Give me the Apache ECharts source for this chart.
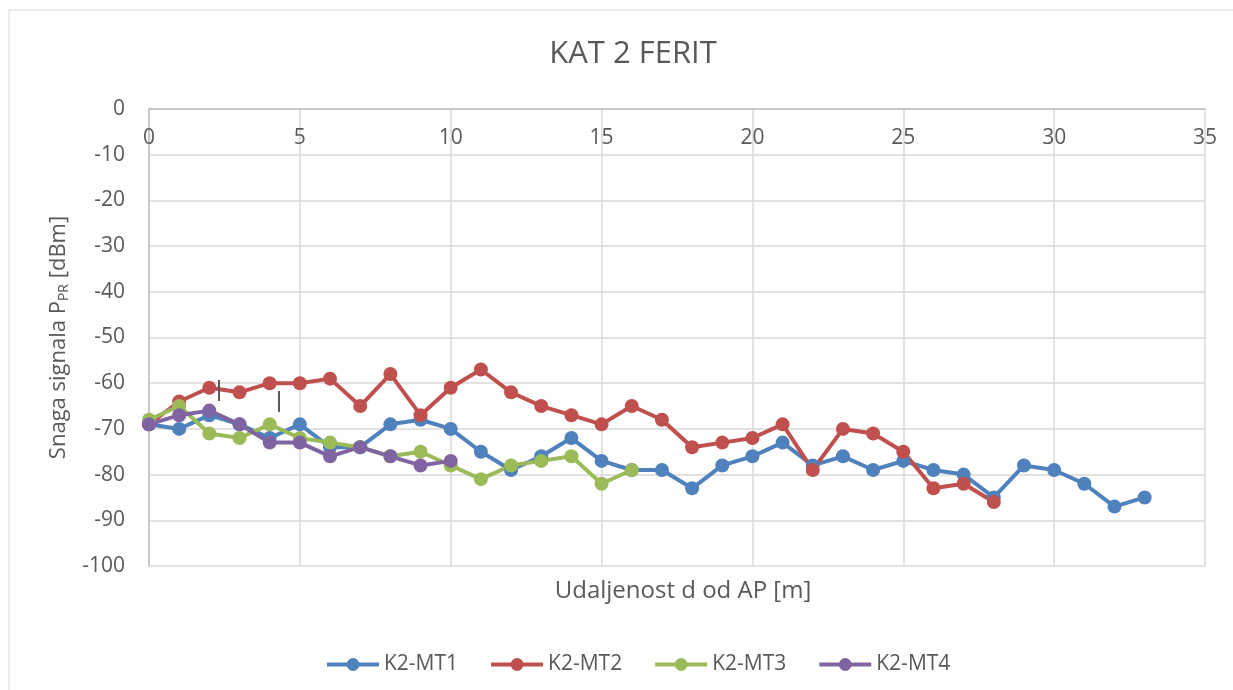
<!DOCTYPE html>
<html><head><meta charset="utf-8">
<script src="https://cdn.jsdelivr.net/npm/echarts@6/dist/echarts.min.js"></script>
<style>html,body{margin:0;padding:0;background:#fff}#c{width:1233px;height:690px}</style>
</head><body><div id="c"></div>
<script>
const mt1 = [-69,-70,-67,-69,-72,-69,-74,-74,-69,-68,-70,-75,-79,-76,-72,-77,-79,-79,-83,-78,-76,-73,-78,-76,-79,-77,-79,-80,-85,-78,-79,-82,-87,-85];
const mt2 = [-69,-64,-61,-62,-60,-60,-59,-65,-58,-67,-61,-57,-62,-65,-67,-69,-65,-68,-74,-73,-72,-69,-79,-70,-71,-75,-83,-82,-86];
const mt3 = [-68,-65,-71,-72,-69,-72,-73,-74,-76,-75,-78,-81,-78,-77,-76,-82,-79];
const mt4 = [-69,-67,-66,-69,-73,-73,-76,-74,-76,-78,-77];
const seriesNames = ['K2-MT1','K2-MT2','K2-MT3','K2-MT4'];
const colors = ['#4f81bd','#c0504d','#9bbb59','#8064a2'];
const xTicks = {min:0,max:35,interval:5};
const yTicks = {min:-100,max:0,interval:10};

const font = 'Open Sans, Liberation Sans, sans-serif';
const toPts = arr => arr.map((v,i)=>[i,v]);
const chart = echarts.init(document.getElementById('c'));
chart.setOption({
  animation:false,
  color:colors,
  textStyle:{fontFamily:font},
  graphic:[
    {type:'rect',shape:{x:9,y:10,width:1240,height:700},style:{fill:'none',stroke:'#d9d9d9',lineWidth:1},silent:true},
    {type:'line',shape:{x1:219,y1:380,x2:219,y2:401},style:{stroke:'#595959',lineWidth:2},silent:true,z:100},
    {type:'line',shape:{x1:279,y1:391,x2:279,y2:412},style:{stroke:'#595959',lineWidth:2},silent:true,z:100}
  ],
  title:[
    {text:'KAT 2 FERIT',left:628,textAlign:'center',top:34,textStyle:{fontSize:31,fontWeight:'normal',color:'#595959',fontFamily:font}},
    {text:'Udaljenost d od AP [m]',left:678,textAlign:'center',top:574,textStyle:{fontSize:24,fontWeight:'normal',color:'#595959',fontFamily:font}}
  ],
  grid:{left:149,right:28,top:109,bottom:124},
  legend:{top:649,left:320,itemWidth:52,itemHeight:16,itemGap:31,lineStyle:{width:4},textStyle:{fontSize:21,color:'#595959'},data:seriesNames},
  xAxis:{type:'value',position:'top',min:xTicks.min,max:xTicks.max,interval:xTicks.interval,
    axisLine:{show:true,lineStyle:{color:'#bfbfbf',width:1.5}},axisTick:{show:false},
    axisLabel:{inside:true,margin:19,fontSize:21,color:'#595959'},
    splitLine:{show:true,lineStyle:{color:'#d9d9d9',width:1.5}}},
  yAxis:{type:'value',min:yTicks.min,max:yTicks.max,interval:yTicks.interval,
    axisLine:{show:true,lineStyle:{color:'#bfbfbf',width:1.5}},axisTick:{show:false},
    axisLabel:{margin:24,fontSize:21,color:'#595959'},
    splitLine:{show:true,lineStyle:{color:'#d9d9d9',width:1.5}},
    name:'{a|Snaga signala P}{s|PR}{a| [dBm]}',nameLocation:'middle',nameGap:76,nameRotate:90,
    nameTextStyle:{rich:{a:{fontSize:22,color:'#595959',fontFamily:font},s:{fontSize:14,color:'#595959',fontFamily:font,padding:[12,0,0,0]}}}},
  series:[mt1,mt2,mt3,mt4].map((d,i)=>({
    name:seriesNames[i],type:'line',data:toPts(d),symbol:'circle',symbolSize:14,
    lineStyle:{width:4,color:colors[i]},itemStyle:{color:colors[i]}
  }))
});
</script></body></html>
